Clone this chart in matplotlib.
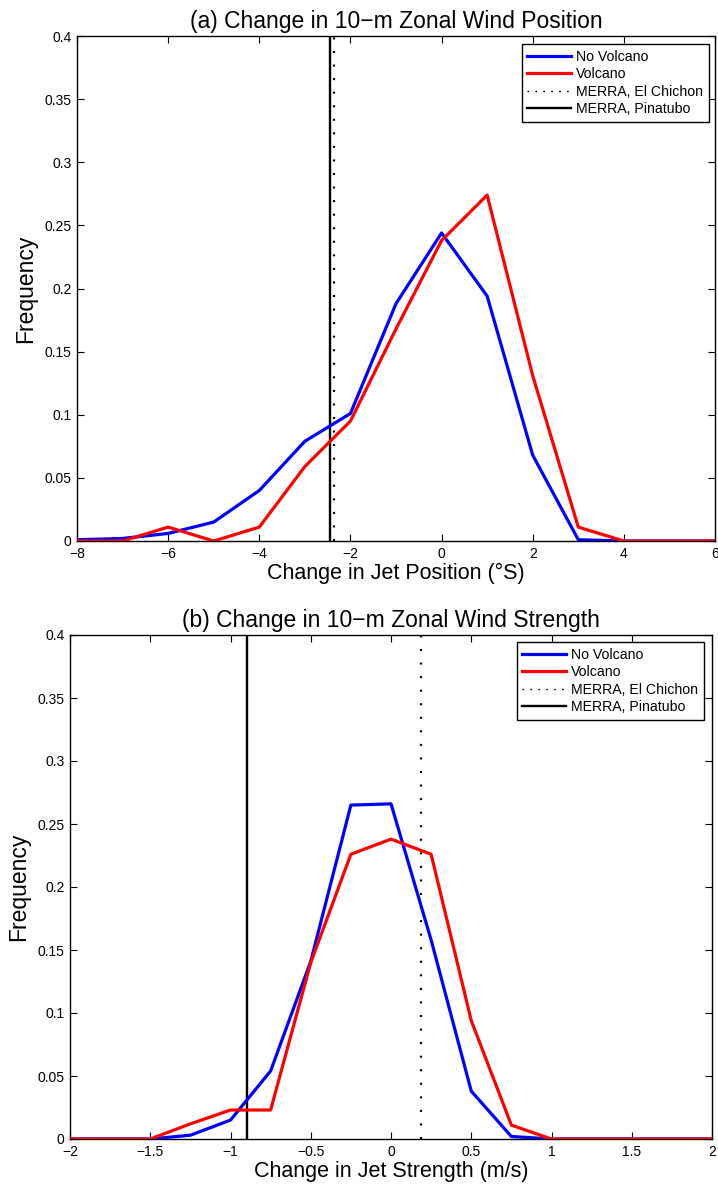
import numpy as np
import matplotlib
matplotlib.use("Agg")
import matplotlib.pyplot as plt
from matplotlib.lines import Line2D
from matplotlib.ticker import MultipleLocator, FuncFormatter

#---------------------------------------- DATA ----------------------------------------
# (a) jet position bins (deg S) and frequencies
pos_bins = [-8, -7, -6, -5, -4, -3, -2, -1, 0, 1, 2, 3, 4, 5, 6]
pos_no_volcano = [0.001, 0.002, 0.006, 0.015, 0.040, 0.079, 0.101, 0.188, 0.244,
                  0.194, 0.068, 0.001, 0.0, 0.0, 0.0]
pos_volcano = [0.0, 0.0, 0.011, 0.0, 0.011, 0.059, 0.095, 0.168, 0.238,
               0.274, 0.131, 0.011, 0.0, 0.0, 0.0]
pos_elchichon = -2.37
pos_pinatubo = -2.44

# (b) jet strength bins (m/s) and frequencies
str_bins = [-2, -1.75, -1.5, -1.25, -1, -0.75, -0.5, -0.25, 0, 0.25, 0.5, 0.75,
            1, 1.25, 1.5, 1.75, 2]
str_no_volcano = [0.0, 0.0, 0.0, 0.003, 0.015, 0.054, 0.141, 0.265, 0.266,
                  0.158, 0.038, 0.002, 0.0, 0.0, 0.0, 0.0, 0.0]
str_volcano = [0.0, 0.0, 0.0, 0.012, 0.023, 0.023, 0.140, 0.226, 0.238,
               0.226, 0.094, 0.011, 0.0, 0.0, 0.0, 0.0, 0.0]
str_elchichon = 0.19
str_pinatubo = -0.90

legend_labels = ['No Volcano', 'Volcano', 'MERRA, El Chichon', 'MERRA, Pinatubo']
#----------------------------------------------------------------------------------------

plt.rcParams['font.family'] = ['Liberation Sans', 'DejaVu Sans']

W, H = 718, 1186
fig = plt.figure(figsize=(W / 100, H / 100), dpi=100)

BLUE = '#0000ff'
RED = '#ff0000'


def fmt(v, pos):
    s = f"{v:g}"
    return s.replace('-', '\u2212')


def draw_panel(ax, bins, no_volc, volc, chichon, pinatubo, xlim, xstep, title, xlabel, leg_off):
    ax.plot(bins, no_volc, color=BLUE, lw=2.3, zorder=3)
    ax.plot(bins, volc, color=RED, lw=2.3, zorder=3)
    ax.axvline(chichon, color='black', lw=1.6, ls=(0, (0.9, 5.2)), zorder=2)
    ax.axvline(pinatubo, color='black', lw=1.7, zorder=2)

    ax.set_xlim(*xlim)
    ax.set_ylim(0, 0.4)
    ax.xaxis.set_major_locator(MultipleLocator(xstep))
    ax.yaxis.set_major_locator(MultipleLocator(0.05))
    ax.xaxis.set_major_formatter(FuncFormatter(fmt))
    ax.yaxis.set_major_formatter(FuncFormatter(fmt))
    ax.tick_params(direction='in', length=5, width=0.8, labelsize=10,
                   top=True, right=True, pad=4)
    for sp in ax.spines.values():
        sp.set_linewidth(1.0)

    ax.set_title(title, fontsize=16.5, pad=6)
    ax.set_xlabel(xlabel, fontsize=15.5, labelpad=2)
    ax.set_ylabel('Frequency', fontsize=16.5, labelpad=5)

    # legend proxies (matlab draws the dotted handle with tighter dots)
    handles = [Line2D([], [], color=BLUE, lw=2.3),
               Line2D([], [], color=RED, lw=2.3),
               Line2D([], [], color='black', lw=1.0, ls=(0, (1.2, 4.5))),
               Line2D([], [], color='black', lw=1.7)]

    aw = ax.get_position().width * W
    ah = ax.get_position().height * H
    leg = ax.legend(handles, legend_labels, loc='upper right',
                    bbox_to_anchor=(1 - leg_off[0] / aw, 1 - leg_off[1] / ah),
                    borderaxespad=0, fontsize=10.2, fancybox=False, framealpha=1,
                    edgecolor='black', handlelength=3.1, handletextpad=0.36,
                    labelspacing=0.25, borderpad=0.4)
    leg.get_frame().set_linewidth(1.0)


# --- (a) jet position ---
ax1 = fig.add_axes([77 / W, 1 - 541 / H, 638 / W, 505 / H])
draw_panel(ax1, pos_bins, pos_no_volcano, pos_volcano, pos_elchichon, pos_pinatubo,
           (-8, 6), 2, '(a) Change in 10\u2212m Zonal Wind Position',
           'Change in Jet Position (\u00b0S)', (6, 8))

# --- (b) jet strength ---
ax2 = fig.add_axes([70 / W, 1 - 1139 / H, 642 / W, 504 / H])
draw_panel(ax2, str_bins, str_no_volcano, str_volcano, str_elchichon, str_pinatubo,
           (-2, 2), 0.5, '(b) Change in 10\u2212m Zonal Wind Strength',
           'Change in Jet Strength (m/s)', (8, 7))

fig.savefig('out.png', dpi=100)
print("Saved out.png")
